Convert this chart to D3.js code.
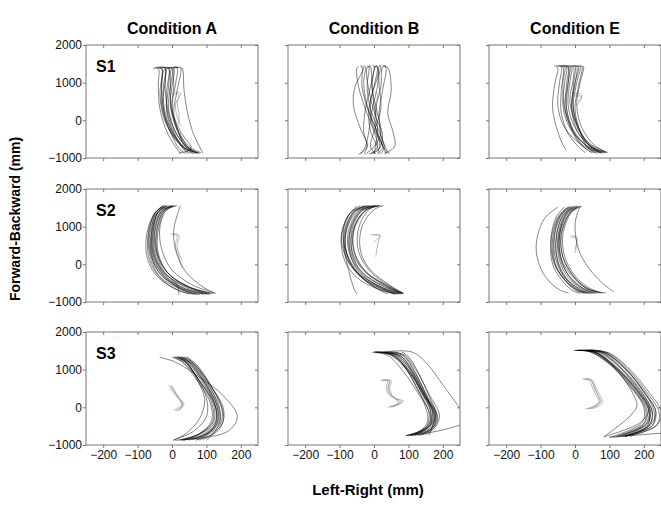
<!DOCTYPE html>
<html>
<head>
<meta charset="utf-8">
<script src="https://cdn.jsdelivr.net/npm/d3@7"></script>
<style>
  body { margin: 0; background: #fff; }
  svg { font-family: "Liberation Sans", Arial, sans-serif; }
</style>
</head>
<body>
<div id="chart"></div>
<script>
const conditions = ["Condition A", "Condition B", "Condition E"];
const subjects = ["S1", "S2", "S3"];
const xTicks = [-200, -100, 0, 100, 200];
const yTicks = [-1000, 0, 1000, 2000];

// each trial: x,y,x,y,... in mm
const s1A = [
    [-50,1400, -20,1390, -25,900, -25,300, -5,-300, 30,-700, 70,-860],
    [-30,1390, -10,1380, -15,800, -15,200, 5,-350, 40,-750, 80,-870],
    [20,1400, 0,1390, -5,900, -10,300, 10,-300, 40,-700, 60,-880],
    [-40,1380, -30,1370, -35,700, -25,100, 0,-400, 20,-750, 40,-880],
    [10,1390, 25,1400, 15,800, 5,200, 20,-300, 50,-700, 85,-860],
    [-55,1370, -40,1380, -40,900, -35,300, -15,-300, 10,-700, 25,-890],
    [-10,1400, 5,1390, 0,900, -5,400, 15,-200, 35,-650, 75,-870],
    [25,1390, 30,1380, 35,800, 45,200, 60,-300, 80,-700, 90,-870],
    [-20,1380, -25,1300, -30,800, -20,100, 10,-450, 45,-780, 65,-890],
    [0,1380, -15,1380, -20,1000, -25,500, -10,-100, 20,-600, 50,-880],
    [-35,1390, -20,1400, -20,850, -10,200, 15,-400, 55,-800, 75,-880],
    [15,1410, 5,1400, 5,900, 0,300, 25,-300, 55,-750, 20,-870],
    [-45,1390, -30,1380, -30,950, -30,400, -10,-200, 25,-650, 55,-880],
    [5,1400, 15,1390, 10,950, 0,350, 15,-250, 45,-700, 80,-870],
    [-25,1400, -10,1390, -10,900, -15,300, 5,-300, 30,-720, 45,-880],
    [-15,1390, 0,1380, -5,800, 0,150, 20,-350, 50,-750, 70,-870]
];
const s1B = [
    [-45,1420, -50,1380, -45,900, -25,300, 0,-300, 10,-700, -10,-890],
    [-20,1440, -15,1420, -20,900, -10,300, 15,-300, 30,-700, 20,-890],
    [20,1450, 15,1430, 10,900, -5,300, -15,-300, -25,-700, -40,-900],
    [30,1440, 35,1400, 25,800, 15,200, 20,-400, 35,-750, 45,-890],
    [-5,1450, 0,1440, -10,900, -25,300, -30,-300, -20,-700, -30,-900],
    [10,1430, 5,1440, -5,1000, 0,400, 10,-200, 5,-650, 0,-890],
    [-35,1430, -30,1400, -55,900, -60,400, -40,-200, -20,-700, -45,-900],
    [25,1450, 40,1400, 50,800, 40,200, 55,-300, 60,-700, 30,-880],
    [-10,1440, -20,1400, -15,800, 5,100, 25,-400, 15,-750, -15,-900],
    [0,1420, 10,1400, 15,900, 20,300, 0,-300, -10,-700, 5,-900],
    [-30,1450, -25,1420, -30,1000, -20,400, 5,-200, 25,-650, 35,-900],
    [15,1450, 20,1420, 5,1000, -10,500, -5,-100, 20,-600, 40,-880],
    [-40,1440, -35,1420, -35,900, -15,200, 10,-350, 15,-750, -5,-890],
    [5,1450, 10,1430, 0,900, -15,300, -10,-300, 10,-700, 15,-900],
    [-15,1450, -10,1420, -5,800, 10,200, 20,-350, 0,-700, -25,-900],
    [35,1440, 25,1420, 20,900, 5,300, 5,-250, 25,-700, 10,-890]
];
const s1E = [
    [-60,1440, -40,1430, -45,1000, -50,400, -30,-200, 20,-650, 70,-860],
    [-40,1440, -25,1440, -30,1000, -35,400, -15,-200, 30,-650, 80,-870],
    [-20,1430, -10,1440, -15,1000, -20,400, 0,-200, 40,-650, 90,-860],
    [0,1440, 10,1430, 0,1000, -10,400, 10,-250, 50,-700, 85,-850],
    [20,1430, 25,1420, 15,1000, 5,400, 20,-200, 55,-650, 93,-860],
    [-55,1420, -50,1400, -60,900, -65,300, -50,-300, -35,-650, -25,-800],
    [-30,1420, -20,1410, -25,900, -25,300, -5,-300, 25,-700, 50,-870],
    [-10,1450, 0,1440, -5,900, -5,300, 15,-300, 45,-700, 75,-870],
    [10,1440, 20,1440, 10,900, 0,300, 15,-300, 35,-700, 60,-870],
    [-50,1440, -35,1420, -40,800, -40,200, -20,-350, 10,-700, 30,-860],
    [-15,1420, -5,1430, -5,1100, -15,500, 5,-100, 40,-600, 95,-850],
    [-45,1430, -30,1440, -35,1000, -30,300, -5,-300, 35,-700, 65,-880],
    [-35,1440, -20,1430, -20,950, -25,350, -5,-250, 35,-680, 75,-860],
    [-5,1440, 5,1440, 0,950, -10,350, 5,-250, 45,-700, 88,-860],
    [-25,1450, -15,1440, -20,1000, -30,400, -10,-250, 20,-680, 55,-860],
    [5,1430, 15,1430, 5,1000, -5,400, 10,-200, 40,-650, 80,-870]
];
const s2A = [
    [-20,1550, -45,1350, -65,800, -60,200, -30,-300, 30,-650, 90,-790],
    [-10,1560, -40,1400, -55,800, -50,200, -20,-300, 40,-650, 100,-790],
    [0,1560, -30,1420, -50,900, -50,300, -20,-250, 45,-600, 115,-780],
    [-30,1540, -55,1300, -75,700, -70,100, -40,-350, 10,-650, 50,-790],
    [10,1550, -20,1420, -40,900, -40,300, -10,-250, 50,-600, 120,-770],
    [-25,1560, -50,1350, -70,750, -65,100, -30,-400, 20,-700, 70,-800],
    [5,1550, -25,1400, -45,800, -40,200, -5,-300, 60,-650, 110,-800],
    [24,1550, 15,1300, 5,900, 10,400, 40,-200, 90,-600, 127,-780],
    [-15,1550, -40,1380, -60,800, -55,150, -20,-350, 30,-680, 80,-800],
    [-5,1545, -35,1380, -55,850, -55,300, -30,-150, 15,-550, 20,-800],
    [-20,1560, -45,1400, -60,900, -60,250, -35,-250, 20,-600, 60,-790],
    [15,1560, -15,1450, -35,1000, -30,400, 0,-150, 60,-550, 125,-760],
    [-15,1560, -40,1380, -58,850, -55,250, -25,-280, 35,-640, 95,-790],
    [0,1555, -30,1400, -50,850, -45,250, -15,-280, 45,-630, 105,-785],
    [-25,1550, -50,1350, -68,780, -62,150, -35,-330, 25,-660, 75,-795],
    [5,1560, -25,1420, -45,900, -45,350, -15,-200, 50,-600, 110,-775]
];
const s2B = [
    [-10,1560, -50,1400, -80,900, -80,300, -50,-200, 20,-600, 75,-780],
    [0,1560, -40,1420, -70,900, -70,300, -40,-250, 25,-620, 80,-780],
    [20,1560, -20,1450, -55,1000, -60,400, -30,-150, 35,-550, 85,-770],
    [-30,1550, -70,1350, -95,750, -85,100, -50,-350, 10,-650, 60,-790],
    [27,1560, 0,1450, -35,1000, -40,400, -15,-100, 45,-550, 86,-770],
    [-20,1560, -60,1380, -85,800, -80,200, -40,-300, 20,-650, 70,-790],
    [10,1550, -25,1430, -60,950, -65,350, -35,-200, 30,-580, 80,-760],
    [-50,1540, -75,1300, -95,700, -80,100, -70,-300, -60,-600, -50,-790],
    [5,1565, -35,1420, -65,900, -60,250, -20,-250, 40,-600, 78,-790],
    [-40,1555, -70,1350, -90,800, -75,200, -35,-350, 15,-680, 40,-790],
    [15,1560, -15,1450, -45,950, -45,350, -10,-200, 50,-600, 85,-780],
    [-5,1550, -45,1400, -75,850, -70,250, -30,-300, 25,-640, 60,-780],
    [-15,1560, -55,1400, -82,850, -78,250, -45,-280, 20,-630, 72,-785],
    [5,1560, -35,1430, -68,920, -68,320, -35,-220, 30,-600, 82,-775],
    [-25,1555, -62,1370, -88,780, -80,150, -40,-320, 15,-660, 65,-790],
    [15,1560, -25,1440, -58,960, -58,380, -25,-180, 40,-580, 84,-770]
];
const s2E = [
    [-10,1540, -40,1300, -60,700, -55,100, -30,-350, 10,-650, 40,-770],
    [0,1540, -30,1320, -50,700, -45,100, -20,-350, 20,-650, 55,-770],
    [10,1540, -20,1350, -45,750, -40,150, -10,-300, 30,-620, 70,-760],
    [-20,1530, -50,1250, -70,600, -65,0, -40,-400, -10,-680, 15,-770],
    [20,1540, -10,1380, -35,800, -30,200, 0,-300, 40,-620, 80,-760],
    [-50,1520, -90,1200, -113,500, -100,-100, -70,-500, -40,-700, -19,-760],
    [15,1545, 5,1300, 0,1000, 10,400, 40,-100, 80,-500, 112,-730],
    [-5,1530, -35,1300, -55,650, -50,50, -25,-400, 10,-680, 35,-770],
    [5,1545, -25,1350, -45,750, -40,150, -15,-350, 25,-650, 60,-770],
    [-30,1530, -55,1250, -70,650, -60,0, -30,-420, 0,-680, 25,-770],
    [10,1540, -15,1360, -40,800, -35,200, -5,-300, 35,-650, 90,-760],
    [-15,1535, -45,1280, -65,700, -60,50, -30,-400, 5,-680, 50,-770],
    [-5,1540, -35,1310, -55,700, -50,100, -25,-370, 15,-660, 45,-770],
    [5,1540, -25,1330, -48,720, -42,120, -15,-330, 25,-640, 62,-765],
    [-15,1535, -45,1270, -62,650, -58,30, -32,-390, 5,-670, 30,-770],
    [15,1540, -15,1360, -40,780, -35,180, -5,-310, 35,-630, 75,-765]
];
const s3A = [
    [10,1340, 40,1200, 80,700, 120,100, 120,-400, 70,-750, 20,-870],
    [20,1340, 50,1180, 95,650, 130,50, 130,-450, 90,-750, 40,-860],
    [0,1330, 30,1200, 70,750, 110,150, 115,-350, 80,-700, 10,-880],
    [-36,1330, 10,1200, 80,800, 150,300, 190,-250, 160,-650, 30,-860],
    [30,1340, 55,1150, 90,700, 120,200, 130,-300, 110,-650, 60,-860],
    [40,1330, 70,1100, 110,600, 145,0, 140,-450, 100,-750, 80,-880],
    [15,1345, 40,1220, 75,750, 100,250, 100,-250, 60,-650, 5,-860],
    [25,1330, 60,1150, 100,700, 130,150, 140,-350, 120,-700, 100,-880],
    [5,1340, 35,1180, 85,650, 125,50, 125,-400, 80,-720, 30,-880],
    [44,1340, 75,1100, 115,550, 150,-50, 145,-450, 110,-750, 90,-870],
    [20,1330, 45,1150, 75,700, 95,200, 80,-300, 40,-700, 3,-880],
    [35,1340, 60,1200, 100,750, 135,200, 150,-300, 130,-650, 70,-870],
    [15,1340, 45,1190, 88,680, 125,80, 128,-420, 85,-740, 35,-870],
    [30,1335, 60,1160, 100,650, 135,100, 138,-380, 105,-700, 70,-870],
    [8,1340, 38,1200, 78,720, 115,130, 118,-380, 75,-720, 25,-875],
    [25,1345, 55,1170, 95,680, 128,120, 135,-350, 100,-700, 50,-870]
];
const s3B = [
    [0,1470, 50,1400, 100,1000, 140,400, 170,-150, 160,-500, 100,-740],
    [20,1475, 70,1380, 110,950, 145,350, 175,-200, 165,-550, 110,-750],
    [40,1470, 80,1350, 115,900, 150,300, 180,-200, 170,-550, 130,-740],
    [60,1475, 90,1350, 125,850, 155,250, 185,-250, 175,-550, 150,-730],
    [-5,1460, 40,1380, 85,950, 130,350, 160,-150, 150,-550, 91,-750],
    [10,1470, 60,1380, 95,1000, 125,500, 160,-100, 165,-450, 120,-740],
    [30,1475, 110,1470, 150,1200, 200,600, 240,100, 260,-150],
    [5,1460, 55,1380, 100,950, 150,300, 175,-300, 140,-650, 95,-745, 180,-640, 260,-450],
    [50,1470, 90,1380, 125,950, 160,350, 190,-200, 180,-500, 140,-740],
    [25,1465, 65,1390, 105,1000, 135,450, 165,-100, 160,-450, 105,-745],
    [0,1475, 45,1400, 90,1050, 120,600, 150,0, 155,-400, 120,-750],
    [80,1470, 100,1350, 130,900, 160,300, 180,-150, 170,-500, 160,-745],
    [15,1470, 62,1390, 102,980, 140,400, 172,-170, 162,-520, 105,-745],
    [35,1472, 78,1360, 115,920, 150,320, 178,-220, 168,-540, 125,-742],
    [5,1465, 52,1395, 98,990, 135,430, 165,-130, 158,-480, 110,-748],
    [45,1475, 85,1365, 120,900, 155,300, 183,-220, 172,-530, 135,-738]
];
const s3E = [
    [0,1510, 50,1470, 110,1100, 170,500, 210,-100, 200,-450, 130,-760],
    [20,1515, 70,1460, 130,1050, 185,450, 220,-100, 210,-450, 140,-770],
    [40,1520, 90,1440, 150,1000, 200,400, 235,-100, 220,-450, 150,-760],
    [-4,1510, 40,1480, 100,1150, 160,550, 200,0, 195,-400, 110,-770],
    [30,1520, 80,1450, 140,1000, 195,400, 225,-150, 215,-500, 152,-760],
    [50,1520, 100,1440, 160,1000, 215,400, 250,-100, 240,-450, 160,-770],
    [10,1510, 60,1460, 120,1050, 180,450, 215,-50, 190,-400, 84,-780],
    [15,1515, 55,1470, 110,1100, 160,500, 180,50, 162,-213, 84,-780],
    [5,1510, 55,1470, 115,1080, 175,480, 215,-100, 210,-500, 150,-750, 100,-790, 260,-680],
    [35,1520, 85,1450, 145,1020, 200,420, 230,-120, 225,-480, 145,-765],
    [45,1520, 95,1445, 155,1000, 210,380, 245,-150, 235,-500, 145,-770],
    [5,1512, 45,1475, 105,1120, 165,520, 205,-50, 200,-420, 120,-765],
    [10,1512, 58,1465, 118,1070, 178,470, 215,-100, 205,-450, 135,-765],
    [25,1518, 75,1455, 135,1030, 190,430, 225,-120, 215,-470, 145,-768],
    [15,1514, 62,1462, 122,1060, 182,460, 218,-90, 208,-440, 125,-770],
    [40,1520, 88,1448, 148,1010, 203,400, 235,-130, 225,-480, 148,-762]
];

// lighter traces
const s1AGray = [[10,760, 25,720, 15,500, 20,200, 20,-100], [5,700, 20,680, 10,400, 15,100, 25,-150]];
const s1BGray = [[0,750, 10,700, 5,400, 10,100]];
const s1EGray = [[-10,720, 15,700, 20,650, 10,500], [-5,650, 20,620, 5,400]];
const s2AGray = [[-5,800, 15,790, 10,500, 20,200, 30,-100], [5,780, 20,770, 15,450, 30,100]];
const s2BGray = [[-10,790, 10,780, 20,750, 0,600], [-5,770, 15,780, 10,500, 5,200]];
const s2EGray = [[-15,750, 0,740, 5,600, 0,300], [-10,700, 5,720, 0,400]];
const s3AGray = [
    [-10,580, 0,500, 15,300, 30,100, 25,-50, 10,-80],
    [-5,600, 5,450, 20,250, 35,80, 20,-60],
    [0,560, 10,400, 25,200, 30,50, 15,-90],
    [-8,520, 5,380, 18,230, 28,60, 5,-70]
];
const s3BGray = [
    [20,720, 45,720, 40,500, 50,300, 80,150, 50,0],
    [25,700, 50,710, 45,480, 55,280, 85,160, 55,10],
    [30,730, 40,700, 35,500, 45,320, 75,130, 45,20],
    [22,710, 45,690, 42,520, 52,330, 70,120, 40,-5]
];
const s3EGray = [
    [25,760, 45,740, 55,550, 65,350, 75,150, 55,0, 35,-35],
    [30,750, 50,730, 60,530, 72,330, 80,140, 60,-10, 40,-30],
    [22,740, 40,720, 50,540, 60,340, 70,160, 50,10, 30,-40],
    [35,760, 48,700, 58,500, 68,300, 72,140, 45,-20]
];

const trials = [[s1A, s1B, s1E], [s2A, s2B, s2E], [s3A, s3B, s3E]];
const grayTrials = [[s1AGray, s1BGray, s1EGray], [s2AGray, s2BGray, s2EGray], [s3AGray, s3BGray, s3EGray]];

function toPairs(a) {
    const p = [];
    for (let i = 0; i < a.length; i += 2) p.push([a[i], a[i + 1]]);
    return p;
}

const colLeft = [86, 288, 489];
const rowTop = [45, 189, 332];
const pw = 172, ph = 113;
const frameColor = "#777";

const svg = d3.select("#chart").append("svg")
    .attr("width", 661)
    .attr("height", 506);

const xScale = d3.scaleLinear().domain([-250, 250]).range([0, pw]);
const yScale = d3.scaleLinear().domain([-1000, 2000]).range([ph, 0]);

const line = d3.line()
    .x(d => xScale(d[0]))
    .y(d => yScale(d[1]))
    .curve(d3.curveCatmullRom.alpha(0.5));

function styleAxis(g) {
    g.select(".domain").remove();
    g.selectAll(".tick line").attr("stroke", frameColor);
    g.selectAll(".tick text").attr("fill", "#111").style("font-size", "12px");
}

trials.forEach((row, r) => {
    row.forEach((set, c) => {
        const g = svg.append("g").attr("transform", `translate(${colLeft[c]},${rowTop[r]})`);
        const clipId = `clip-${r}-${c}`;
        g.append("clipPath").attr("id", clipId)
            .append("rect").attr("width", pw).attr("height", ph);

        const plot = g.append("g").attr("clip-path", `url(#${clipId})`);
        plot.selectAll("path.gray")
            .data(grayTrials[r][c])
            .enter().append("path")
            .attr("class", "gray")
            .attr("d", d => line(toPairs(d)))
            .attr("fill", "none")
            .attr("stroke", "#9a9a9a")
            .attr("stroke-width", 0.7);
        plot.selectAll("path.trial")
            .data(set)
            .enter().append("path")
            .attr("class", "trial")
            .attr("d", d => line(toPairs(d)))
            .attr("fill", "none")
            .attr("stroke", "#000")
            .attr("stroke-opacity", 0.8)
            .attr("stroke-width", 0.6);

        g.append("g")
            .call(d3.axisTop(xScale).tickValues(xTicks).tickSize(-3).tickFormat(""))
            .call(styleAxis);
        g.append("g").attr("transform", `translate(${pw},0)`)
            .call(d3.axisRight(yScale).tickValues(yTicks).tickSize(-3).tickFormat(""))
            .call(styleAxis);
        g.append("g").attr("transform", `translate(0,${ph})`)
            .call(d3.axisBottom(xScale).tickValues(xTicks).tickSize(3).tickPadding(2)
                .tickFormat(r === 2 ? d3.format("d") : ""))
            .call(styleAxis);
        g.append("g")
            .call(d3.axisLeft(yScale).tickValues(yTicks).tickSize(3).tickPadding(1)
                .tickFormat(c === 0 ? d3.format("d") : ""))
            .call(styleAxis);

        g.append("rect")
            .attr("width", pw).attr("height", ph)
            .attr("fill", "none")
            .attr("stroke", frameColor)
            .attr("stroke-width", 1);

        if (c === 0) {
            g.append("text")
                .attr("x", 10).attr("y", 27)
                .style("font-size", "16px").style("font-weight", "bold")
                .text(subjects[r]);
        }
        if (r === 0) {
            g.append("text")
                .attr("x", pw / 2).attr("y", -11)
                .attr("text-anchor", "middle")
                .style("font-size", "16px").style("font-weight", "bold")
                .text(conditions[c]);
        }
    });
});

svg.append("text")
    .attr("transform", "translate(20,219) rotate(-90)")
    .attr("text-anchor", "middle")
    .style("font-size", "14px").style("font-weight", "bold")
    .text("Forward-Backward (mm)");

svg.append("text")
    .attr("x", 368).attr("y", 495)
    .attr("text-anchor", "middle")
    .style("font-size", "15px").style("font-weight", "bold")
    .text("Left-Right (mm)");
</script>
</body>
</html>
